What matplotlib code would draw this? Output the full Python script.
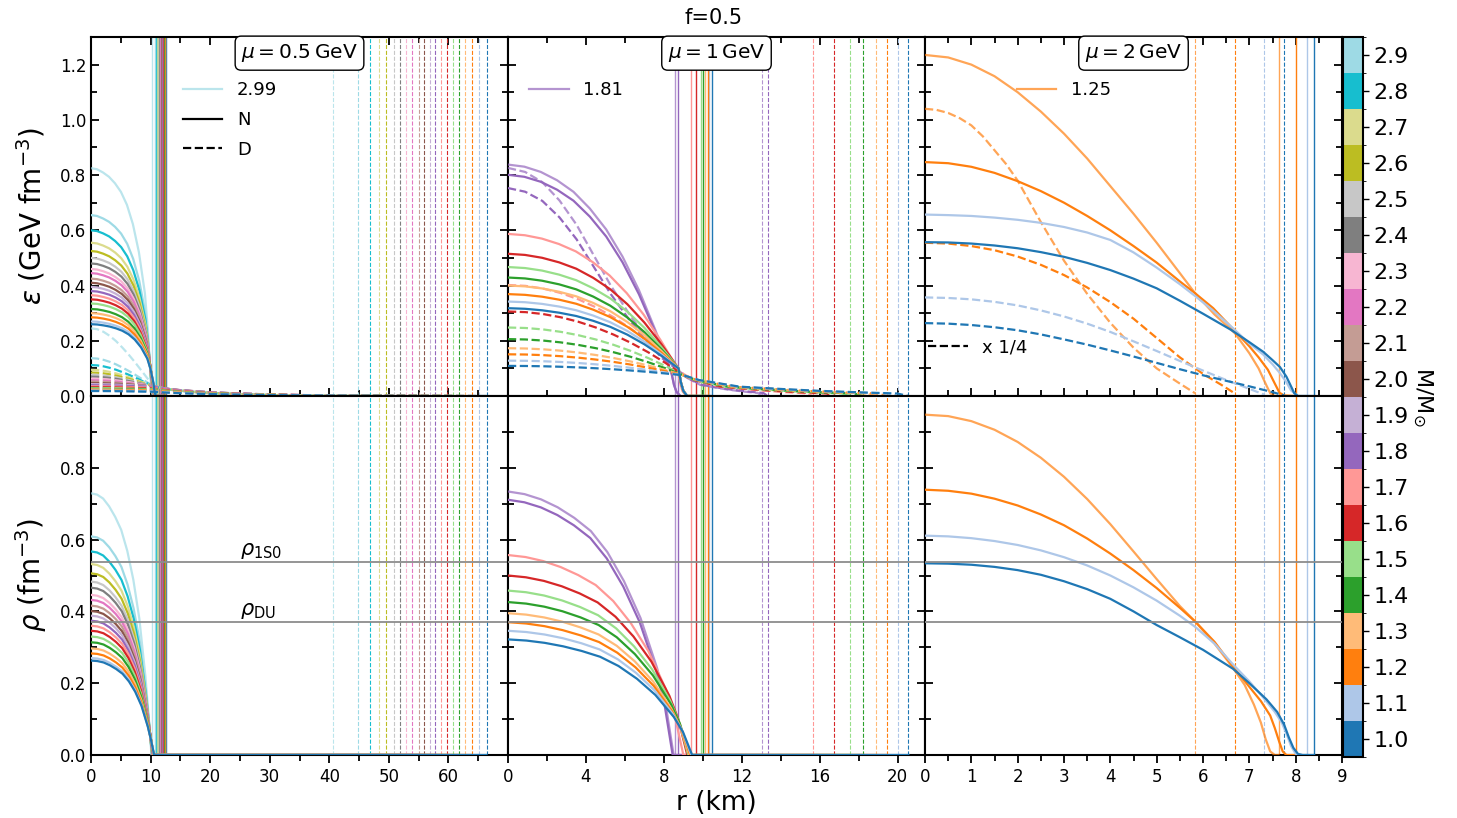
import numpy as np
import matplotlib
matplotlib.use("Agg")
import matplotlib.pyplot as plt
from matplotlib.colors import ListedColormap, BoundaryNorm
from matplotlib.cm import ScalarMappable
from matplotlib.lines import Line2D
from matplotlib.ticker import FixedLocator

plt.rcParams['font.family'] = ['DejaVu Sans']
plt.rcParams['mathtext.fontset'] = 'dejavusans'

# ---------------- colour bar masses ----------------
mass_ticks = [1.0, 1.1, 1.2, 1.3, 1.4, 1.5, 1.6, 1.7, 1.8, 1.9,
              2.0, 2.1, 2.2, 2.3, 2.4, 2.5, 2.6, 2.7, 2.8, 2.9]

# ---------------- panel 1 : mu = 0.5 GeV ----------------
p1_mass = [1.0, 1.1, 1.2, 1.3, 1.4, 1.5, 1.6, 1.7, 1.8, 1.9,
           2.0, 2.1, 2.2, 2.3, 2.4, 2.5, 2.6, 2.7, 2.8, 2.9, 2.99]
p1_epsN_c = [0.26, 0.27, 0.285, 0.30, 0.315, 0.335, 0.35, 0.365, 0.38, 0.395,
             0.41, 0.425, 0.445, 0.46, 0.48, 0.50, 0.525, 0.555, 0.60, 0.655, 0.825]
p1_epsD_c = [0.018, 0.02, 0.022, 0.024, 0.026, 0.029, 0.032, 0.035, 0.039, 0.043,
             0.047, 0.052, 0.057, 0.063, 0.07, 0.077, 0.085, 0.095, 0.112, 0.137, 0.245]
p1_rho_c = [0.263, 0.27, 0.283, 0.297, 0.314, 0.33, 0.346, 0.36, 0.374, 0.388,
            0.401, 0.416, 0.432, 0.446, 0.466, 0.483, 0.506, 0.532, 0.567, 0.609, 0.729]
p1_core_end = [10.6, 10.58, 10.56, 10.54, 10.52, 10.5, 10.48, 10.46, 10.44, 10.42,
               10.4, 10.38, 10.36, 10.34, 10.32, 10.3, 10.28, 10.26, 10.24, 10.22, 10.15]
p1_RN = [12.55, 12.45, 12.35, 12.3, 12.2, 12.1, 12.05, 11.95, 11.9, 11.8,
         11.7, 11.65, 11.55, 11.45, 11.35, 11.25, 11.15, 11.05, 10.95, 10.8, 10.3]
p1_RD = [66.4, 65.1, 63.9, 62.7, 61.7, 60.8, 59.8, 58.8, 57.8, 56.9,
         55.9, 55.0, 53.9, 52.9, 51.9, 50.8, 49.5, 48.3, 46.8, 44.8, 40.7]
p1_epsN_knee = 0.045
p1_epsD_knee_r = 10.5
p1_epsD_knee_v = 0.035

# ---------------- panel 2 : mu = 1 GeV ----------------
p2_mass = [1.0, 1.1, 1.2, 1.3, 1.4, 1.5, 1.6, 1.7, 1.8, 1.81]
p2_epsN_c = [0.318, 0.342, 0.369, 0.40, 0.429, 0.467, 0.515, 0.587, 0.801, 0.838]
p2_epsD_c = [0.109, 0.128, 0.151, 0.173, 0.206, 0.248, 0.306, 0.402, 0.753, 0.826]
p2_rho_c = [0.322, 0.346, 0.37, 0.395, 0.426, 0.458, 0.50, 0.557, 0.711, 0.734]
p2_rho_end = [9.45, 9.4, 9.35, 9.3, 9.3, 9.25, 9.2, 9.0, 8.45, 8.5]
p2_epsN_knee_r = [8.75, 8.75, 8.75, 8.75, 8.75, 8.75, 8.75, 8.7, 8.4, 8.4]
p2_epsN_knee_v = [0.10, 0.10, 0.10, 0.10, 0.10, 0.10, 0.10, 0.10, 0.08, 0.08]
p2_epsD_knee_r = [9.0, 9.0, 9.0, 9.0, 9.0, 9.0, 9.0, 9.0, 8.8, 8.8]
p2_epsD_knee_v = [0.075, 0.075, 0.075, 0.075, 0.075, 0.075, 0.075, 0.08, 0.09, 0.09]
p2_RN = [10.45, 10.33, 10.25, 10.13, 10.03, 9.91, 9.65, 9.39, 8.71, 8.59]
p2_RD = [20.55, 20.02, 19.45, 18.87, 18.24, 17.53, 16.73, 15.65, 13.33, 13.04]

# ---------------- panel 3 : mu = 2 GeV (D curves shown x 1/4) ----------------
p3_mass = [1.0, 1.1, 1.2, 1.25]
p3_RN = [8.40, 8.25, 8.0, 7.63]
p3_RD = [7.75, 7.32, 6.68, 5.83]
p3_epsN_r = [
    [0, 0.5, 1, 1.5, 2, 2.5, 3, 3.5, 4, 4.5, 5, 5.5, 6.0, 6.6, 7.0, 7.3, 7.5, 7.66, 7.8, 7.9, 7.97, 8.05],
    [0, 0.5, 1, 1.5, 2, 2.5, 3, 3.5, 4, 4.5, 5, 5.5, 5.83, 6.2, 6.65, 7.0, 7.3, 7.5, 7.65, 7.8, 7.9, 8.05],
    [0, 0.5, 1, 1.5, 2, 2.5, 3, 3.5, 4, 4.5, 5, 5.5, 5.83, 6.22, 6.69, 7.0, 7.2, 7.4, 7.55, 7.65, 7.75, 8.0],
    [0, 0.5, 1, 1.5, 2, 2.5, 3, 3.5, 4, 4.5, 5, 5.5, 5.83, 6.25, 6.69, 7.0, 7.2, 7.35, 7.45, 7.55],
]
p3_epsN_v = [
    [0.557, 0.556, 0.552, 0.545, 0.535, 0.521, 0.504, 0.482, 0.456, 0.425, 0.39, 0.345, 0.298,
     0.24, 0.195, 0.16, 0.13, 0.105, 0.07, 0.035, 0.01, 0.0],
    [0.657, 0.655, 0.652, 0.646, 0.638, 0.627, 0.612, 0.592, 0.565, 0.52, 0.465, 0.405, 0.362,
     0.312, 0.245, 0.19, 0.15, 0.115, 0.085, 0.05, 0.02, 0.0],
    [0.847, 0.843, 0.83, 0.808, 0.778, 0.742, 0.70, 0.652, 0.60, 0.543, 0.483, 0.415, 0.372,
     0.318, 0.235, 0.18, 0.14, 0.095, 0.045, 0.012, 0.002, 0.0],
    [1.235, 1.226, 1.20, 1.158, 1.10, 1.03, 0.95, 0.86, 0.76, 0.66, 0.555, 0.445, 0.372,
     0.295, 0.227, 0.155, 0.10, 0.045, 0.01, 0.0],
]
p3_epsD_r = [
    [0, 0.5, 1, 1.5, 2, 2.5, 3, 3.5, 4, 4.5, 5, 5.5, 6, 6.5, 7, 7.5, 7.75],
    [0, 0.5, 1, 1.5, 2, 2.5, 3, 3.5, 4, 4.5, 5, 5.5, 6, 6.5, 7, 7.32],
    [0, 0.5, 1, 1.5, 2, 2.5, 3, 3.5, 4, 4.5, 5, 5.5, 6, 6.4, 6.68],
    [0, 0.25, 0.5, 0.75, 1, 1.25, 1.5, 1.75, 2, 2.5, 3, 3.5, 4, 4.5, 5, 5.5, 5.83],
]
p3_epsD_v = [
    [0.264, 0.262, 0.257, 0.249, 0.238, 0.223, 0.205, 0.186, 0.165, 0.143, 0.12, 0.097, 0.075,
     0.055, 0.035, 0.014, 0.002],
    [0.357, 0.355, 0.35, 0.341, 0.328, 0.31, 0.288, 0.262, 0.232, 0.198, 0.163, 0.127, 0.092,
     0.058, 0.026, 0.005],
    [0.555, 0.552, 0.543, 0.528, 0.505, 0.475, 0.438, 0.393, 0.34, 0.28, 0.21, 0.14, 0.08,
     0.04, 0.01],
    [1.04, 1.036, 1.025, 1.006, 0.98, 0.94, 0.89, 0.84, 0.78, 0.63, 0.49, 0.37, 0.265, 0.175,
     0.10, 0.045, 0.01],
]
p3_rho_r = [
    [0, 0.5, 1, 1.5, 2, 2.5, 3, 3.5, 4, 4.5, 5, 5.5, 6, 6.65, 7.0, 7.37, 7.6, 7.75, 7.85, 7.95, 8.05, 8.15],
    [0, 0.5, 1, 1.5, 2, 2.5, 3, 3.5, 4, 4.5, 5, 5.5, 5.83, 6.25, 6.65, 7.0, 7.3, 7.55, 7.7, 7.8, 7.9, 8.0, 8.1],
    [0, 0.5, 1, 1.5, 2, 2.5, 3, 3.5, 4, 4.5, 5, 5.5, 5.83, 6.25, 6.65, 7.0, 7.25, 7.45, 7.55, 7.65, 7.72, 7.8],
    [0, 0.5, 1, 1.5, 2, 2.5, 3, 3.5, 4, 4.5, 5, 5.5, 5.83, 6.25, 6.65, 6.9, 7.1, 7.25, 7.35, 7.45, 7.55],
]
p3_rho_v = [
    [0.534, 0.533, 0.53, 0.524, 0.515, 0.502, 0.484, 0.462, 0.435, 0.40, 0.362, 0.328, 0.293,
     0.24, 0.2, 0.155, 0.12, 0.085, 0.05, 0.02, 0.003, 0.0],
    [0.611, 0.609, 0.604, 0.596, 0.585, 0.57, 0.551, 0.528, 0.50, 0.467, 0.43, 0.388, 0.357,
     0.31, 0.252, 0.205, 0.16, 0.12, 0.09, 0.06, 0.025, 0.003, 0.0],
    [0.739, 0.736, 0.728, 0.714, 0.695, 0.67, 0.64, 0.603, 0.561, 0.515, 0.465, 0.41, 0.372,
     0.315, 0.246, 0.19, 0.15, 0.11, 0.075, 0.035, 0.01, 0.0],
    [0.948, 0.944, 0.93, 0.906, 0.872, 0.828, 0.775, 0.713, 0.643, 0.567, 0.49, 0.415, 0.372,
     0.31, 0.242, 0.195, 0.14, 0.09, 0.045, 0.01, 0.0],
]

# reference densities
rho_1S0 = 0.537
rho_DU = 0.371

# ---------------- normalised profile shapes ----------------
core_x = [0, .1, .2, .3, .4, .5, .6, .7, .8, .9, 1.0]
core_x12 = [0, .1, .2, .3, .4, .5, .6, .7, .8, .9, .95, 1.0]
gN1 = [1, .995, .98, .96, .93, .89, .83, .74, .61, .42, .25, 0]
gR1 = [1, .995, .98, .95, .91, .86, .78, .67, .52, .30, .16, 0]
gD1 = [1, .985, .94, .87, .78, .67, .55, .42, .28, .14, 0]
gN2 = [1, .99, .965, .925, .87, .79, .69, .56, .40, .21, 0]
gD2 = [1, .99, .96, .91, .84, .75, .64, .51, .36, .19, 0]
gDP = [1, .98, .93, .84, .72, .57, .42, .29, .17, .07, 0]
gR2 = [1, .99, .97, .94, .90, .85, .77, .66, .52, .33, .2, 0]
tailN_dr = [0, 0.12, 0.25, 0.45]
tailN_f = [1, 0.5, 0.18, 0]
tailD1_x = [0, .05, .1, .2, .3, .45, .6, .8, 1]
tailD1_f = [1, .75, .6, .4, .27, .14, .07, .02, 0]
tailD2_x = [0, .07, .25, .45, .6, .8, .95, 1]
tailD2_f = [1, .77, .45, .33, .25, .17, .12, 0]

tab20 = plt.get_cmap('tab20').colors


def mass_color(m):
    i = min(int(np.floor((m - 1.0) / 0.1 + 1e-6)), 19)
    return tab20[i]


def build(c, rk, vk, gx, gy, tail_r, tail_f, r_extend=None):
    r = [rk * x for x in gx]
    v = [vk + (c - vk) * y for y in gy]
    r += list(tail_r[1:])
    v += [vk * f for f in tail_f[1:]]
    if r_extend is not None and r_extend > r[-1]:
        r.append(r_extend)
        v.append(0.0)
    return np.array(r), np.array(v)


# ---------------- figure layout ----------------
W, H = 1457, 818
fig = plt.figure(figsize=(W / 100, H / 100), dpi=100)
left, pw = 91 / W, 417 / W
top_b, bot_b, ph = 1 - 396 / H, 1 - 755 / H, 359 / H
axes_top = [fig.add_axes([left + i * pw, top_b, pw, ph]) for i in range(3)]
axes_bot = [fig.add_axes([left + i * pw, bot_b, pw, ph]) for i in range(3)]
cax = fig.add_axes([1343 / W, 1 - 757 / H, 20 / W, 720 / H])

LW = 1.6


def alpha_of(i, n):
    return 0.7 if i == n - 1 else 1.0


def vlines(ax_list, RN, RD, masses):
    n = len(masses)
    for i, m in enumerate(masses):
        col = mass_color(m)
        a = alpha_of(i, n)
        for ax in ax_list:
            ax.axvline(RN[i], color=col, lw=1.0, alpha=a, zorder=2)
            ax.axvline(RD[i], color=col, lw=0.8, ls='--', alpha=a, zorder=2)


# ---- panel 1 ----
axT, axB = axes_top[0], axes_bot[0]
n1 = len(p1_mass)
vlines([axT, axB], p1_RN, p1_RD, p1_mass)
for i in range(n1 - 1, -1, -1):
    m = p1_mass[i]
    col, a = mass_color(m), alpha_of(i, n1)
    rk = p1_core_end[i] - 0.1
    r, v = build(p1_epsN_c[i], rk, p1_epsN_knee, core_x12, gN1,
                 [rk + d for d in tailN_dr], tailN_f, p1_RN[i])
    axT.plot(r, v, color=col, lw=LW, alpha=a, zorder=3)
    vk = min(p1_epsD_knee_v, 0.85 * p1_epsD_c[i])
    rkd = p1_epsD_knee_r
    r, v = build(p1_epsD_c[i], rkd, vk, core_x, gD1,
                 [rkd + (p1_RD[i] - rkd) * x for x in tailD1_x], tailD1_f)
    axT.plot(r, v, color=col, lw=LW, ls='--', alpha=a, zorder=3)
    r, v = build(p1_rho_c[i], p1_core_end[i], 0.0, core_x12, gR1,
                 [p1_core_end[i], p1_RD[i]], [0, 0])
    axB.plot(r, v, color=col, lw=LW, alpha=a, zorder=3)

# ---- panel 2 ----
axT, axB = axes_top[1], axes_bot[1]
n2 = len(p2_mass)
vlines([axT, axB], p2_RN, p2_RD, p2_mass)
for i in range(n2 - 1, -1, -1):
    m = p2_mass[i]
    col, a = mass_color(m), alpha_of(i, n2)
    rk = p2_epsN_knee_r[i]
    r, v = build(p2_epsN_c[i], rk, p2_epsN_knee_v[i], core_x, gN2,
                 [rk + d for d in tailN_dr], tailN_f, p2_RN[i])
    axT.plot(r, v, color=col, lw=LW, alpha=a, zorder=3)
    rkd = p2_epsD_knee_r[i]
    gd = gDP if m >= 1.8 else gD2
    r, v = build(p2_epsD_c[i], rkd, p2_epsD_knee_v[i], core_x, gd,
                 [rkd + (p2_RD[i] - rkd) * x for x in tailD2_x], tailD2_f)
    axT.plot(r, v, color=col, lw=LW, ls='--', alpha=a, zorder=3)
    r, v = build(p2_rho_c[i], p2_rho_end[i], 0.0, core_x12, gR2,
                 [p2_rho_end[i], p2_RD[i]], [0, 0])
    axB.plot(r, v, color=col, lw=LW, alpha=a, zorder=3)

# ---- panel 3 ----
axT, axB = axes_top[2], axes_bot[2]
n3 = len(p3_mass)
vlines([axT, axB], p3_RN, p3_RD, p3_mass)
for i in range(n3 - 1, -1, -1):
    m = p3_mass[i]
    col, a = mass_color(m), alpha_of(i, n3)
    axT.plot(p3_epsN_r[i] + [p3_RN[i]], p3_epsN_v[i] + [0.0], color=col, lw=LW, alpha=a, zorder=3)
    axT.plot(p3_epsD_r[i], p3_epsD_v[i], color=col, lw=LW, ls='--', alpha=a, zorder=3)
    axB.plot(p3_rho_r[i] + [p3_RN[i]], p3_rho_v[i] + [0.0], color=col, lw=LW, alpha=a, zorder=3)

# ---- reference density lines ----
for ax in axes_bot:
    ax.axhline(rho_1S0, color='0.55', lw=1.3, zorder=4)
    ax.axhline(rho_DU, color='0.55', lw=1.3, zorder=4)
axes_bot[0].text(25, rho_1S0 + 0.003, r'$\rho_{\rm 1S0}$', fontsize=15, va='bottom', ha='left')
axes_bot[0].text(25, rho_DU + 0.003, r'$\rho_{\rm DU}$', fontsize=15, va='bottom', ha='left')

# ---- axes limits & ticks ----
xlims = [70, 21.4, 9]
xmaj = [[0, 10, 20, 30, 40, 50, 60], [0, 4, 8, 12, 16, 20], [0, 1, 2, 3, 4, 5, 6, 7, 8, 9]]
xmin = [[5, 15, 25, 35, 45, 55, 65], [2, 6, 10, 14, 18],
        [0.5, 1.5, 2.5, 3.5, 4.5, 5.5, 6.5, 7.5, 8.5]]
for j in range(3):
    for row, ax in enumerate([axes_top[j], axes_bot[j]]):
        ax.set_xlim(0, xlims[j])
        ax.xaxis.set_major_locator(FixedLocator(xmaj[j]))
        ax.xaxis.set_minor_locator(FixedLocator(xmin[j]))
        if row == 0:
            ax.set_ylim(0, 1.3)
            ax.yaxis.set_major_locator(FixedLocator([0, 0.2, 0.4, 0.6, 0.8, 1.0, 1.2]))
            ax.yaxis.set_minor_locator(FixedLocator([0.1, 0.3, 0.5, 0.7, 0.9, 1.1]))
            ax.tick_params(axis='x', which='both', direction='in', top=True, bottom=True,
                           labelbottom=False, width=1.3)
        else:
            ax.set_ylim(0, 1.0)
            ax.yaxis.set_major_locator(FixedLocator([0, 0.2, 0.4, 0.6, 0.8]))
            ax.yaxis.set_minor_locator(FixedLocator([0.1, 0.3, 0.5, 0.7, 0.9]))
            ax.tick_params(axis='x', which='both', direction='out', width=1.3, labelsize=12)
        ax.tick_params(axis='x', which='major', length=6)
        ax.tick_params(axis='x', which='minor', length=4)
        ax.tick_params(axis='y', which='both', direction='in', left=True, right=True,
                       width=1.3, labelsize=12)
        ax.tick_params(axis='y', which='major', length=6)
        ax.tick_params(axis='y', which='minor', length=4)
        if j > 0:
            ax.tick_params(axis='y', labelleft=False)
        for s in ax.spines.values():
            s.set_linewidth(1.5)
    axes_bot[j].xaxis.set_major_formatter(plt.FuncFormatter(lambda v, p: f'{v:g}'))
    axes_top[j].yaxis.set_major_formatter(plt.FuncFormatter(lambda v, p: f'{v:.1f}'))
    axes_bot[j].yaxis.set_major_formatter(plt.FuncFormatter(lambda v, p: f'{v:.1f}'))

# ---- mu boxes ----
mu_labels = [r'$\mu = 0.5\,\mathrm{GeV}$', r'$\mu = 1\,\mathrm{GeV}$', r'$\mu = 2\,\mathrm{GeV}$']
for ax, lab in zip(axes_top, mu_labels):
    ax.text(0.5, 0.955, lab, transform=ax.transAxes, ha='center', va='center', fontsize=14.5,
            zorder=10, bbox=dict(boxstyle='round,pad=0.3', fc='white', ec='black', lw=1.0))

# ---- legends ----
leg_kw = dict(frameon=False, fontsize=13, handlelength=2.2, borderpad=0, borderaxespad=0,
              handletextpad=0.8, labelspacing=0.65)
h1 = [Line2D([], [], color=mass_color(p1_mass[-1]), alpha=0.7, lw=LW),
      Line2D([], [], color='k', lw=LW), Line2D([], [], color='k', lw=LW, ls='--')]
axes_top[0].legend(h1, [f'{p1_mass[-1]:.2f}', 'N', 'D'], loc='upper left',
                   bbox_to_anchor=(0.22, 0.877), **leg_kw)
h2 = [Line2D([], [], color=mass_color(p2_mass[-1]), alpha=0.7, lw=LW)]
axes_top[1].legend(h2, [f'{p2_mass[-1]:.2f}'], loc='upper left',
                   bbox_to_anchor=(0.05, 0.877), **leg_kw)
h3 = [Line2D([], [], color=mass_color(p3_mass[-1]), alpha=0.7, lw=LW)]
l3 = axes_top[2].legend(h3, [f'{p3_mass[-1]:.2f}'], loc='upper left',
                        bbox_to_anchor=(0.22, 0.877), **leg_kw)
axes_top[2].add_artist(l3)
h4 = [Line2D([], [], color='k', lw=LW, ls='--')]
axes_top[2].legend(h4, ['x 1/4'], loc='center left', bbox_to_anchor=(0.007, 0.136), **leg_kw)

# ---- colour bar ----
bounds = [0.95 + 0.1 * k for k in range(21)]
cmap = ListedColormap(tab20)
norm = BoundaryNorm(bounds, cmap.N)
cb = fig.colorbar(ScalarMappable(norm=norm, cmap=cmap), cax=cax, ticks=mass_ticks)
cb.ax.set_yticklabels([f'{t:.1f}' for t in mass_ticks])
cb.ax.tick_params(labelsize=16, length=4, width=1.0)
cb.outline.set_linewidth(1.5)
cb.set_label(r'M/M$_{\odot}$', rotation=270, fontsize=16, labelpad=18)

# ---- labels ----
fig.text(0.021, 1 - 216 / H, r'$\varepsilon$ (GeV fm$^{-3}$)', rotation=90, fontsize=20,
         ha='center', va='center')
fig.text(0.021, 1 - 575 / H, r'$\rho$ (fm$^{-3}$)', rotation=90, fontsize=20,
         ha='center', va='center')
fig.text(716 / W, 1 - 803 / H, 'r (km)', fontsize=19, ha='center', va='center')
fig.text(714 / W, 1 - 18 / H, 'f=0.5', fontsize=15, ha='center', va='center')

fig.savefig('out.png', dpi=100)
